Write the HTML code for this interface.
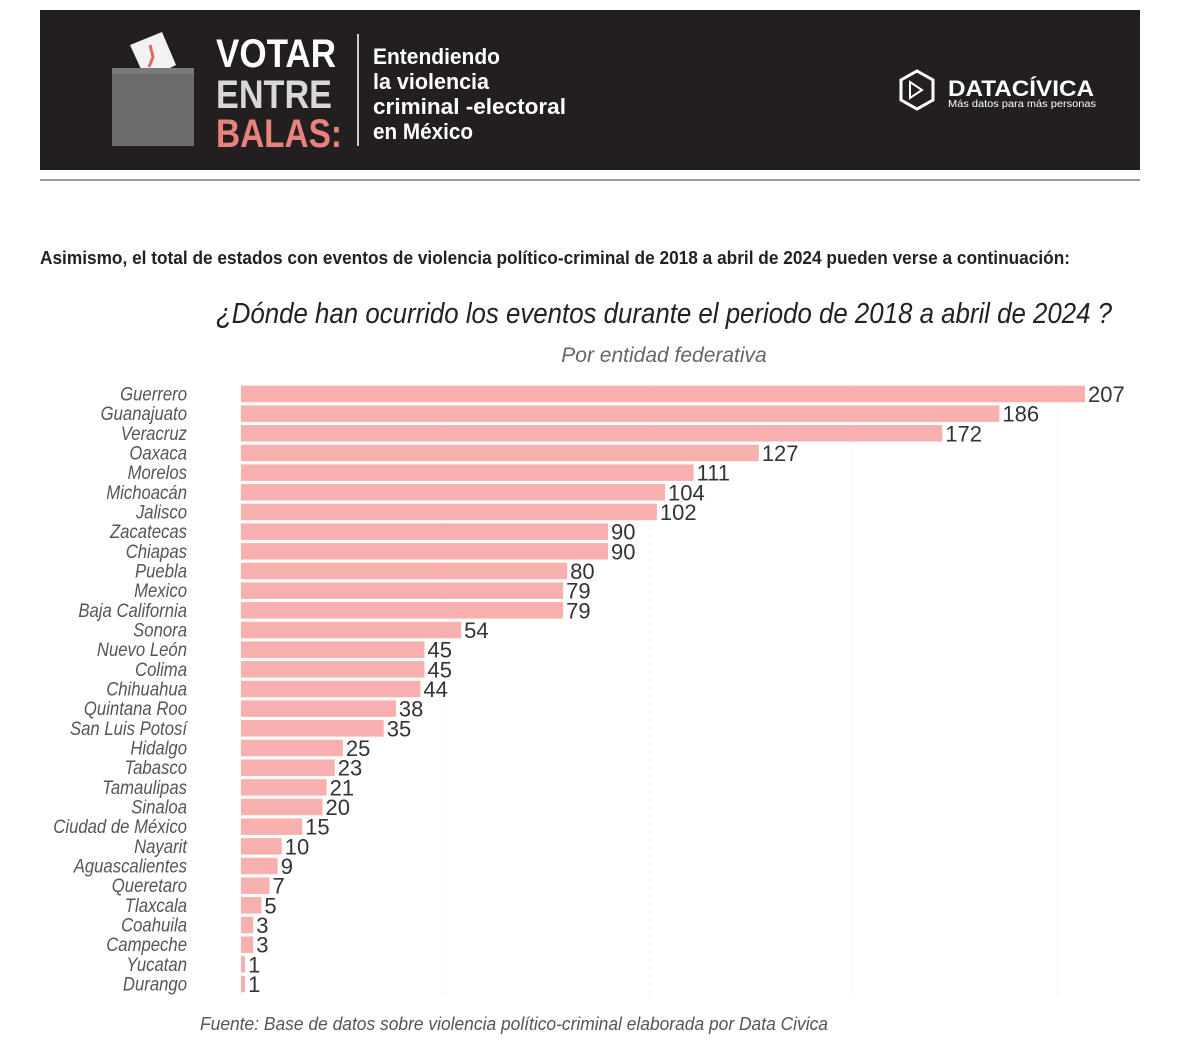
<!DOCTYPE html>
<html><head><meta charset="utf-8">
<style>
html,body{margin:0;padding:0;background:#fff;width:1181px;height:1042px;overflow:hidden;font-family:"Liberation Sans",sans-serif;}
svg{display:block}
</style></head>
<body>
<svg width="1181" height="1042" viewBox="0 0 1181 1042" xmlns="http://www.w3.org/2000/svg">
  <g>
    <rect x="40" y="10" width="1100" height="160" fill="#231f20"/>
    <g>
      <polygon points="130,45 162,32 176,65 146,80" fill="#f2f2f2"/>
      <path d="M150,45 l3,12 l-4,10" stroke="#e06a66" stroke-width="3" fill="none"/>
      <rect x="112" y="68" width="82" height="78" fill="#6b6b6b"/>
      <rect x="112" y="68" width="82" height="6" fill="#7a7a7a"/>
    </g>
    <g font-family="Liberation Sans Narrow, Liberation Sans, sans-serif" font-weight="bold" font-size="40">
      <text x="216" y="67" fill="#ffffff" textLength="120" lengthAdjust="spacingAndGlyphs">VOTAR</text>
      <text x="216" y="108" fill="#d8d8d8" textLength="116" lengthAdjust="spacingAndGlyphs">ENTRE</text>
      <text x="216" y="147" fill="#e8827d" textLength="126" lengthAdjust="spacingAndGlyphs">BALAS:</text>
    </g>
    <rect x="357" y="34" width="2" height="112" fill="#cccccc"/>
    <g font-family="Liberation Sans Narrow, Liberation Sans, sans-serif" font-weight="bold" font-size="22" fill="#ffffff">
      <text x="373" y="64" textLength="127" lengthAdjust="spacingAndGlyphs">Entendiendo</text>
      <text x="373" y="89" textLength="116" lengthAdjust="spacingAndGlyphs">la violencia</text>
      <text x="373" y="114" textLength="193" lengthAdjust="spacingAndGlyphs">criminal -electoral</text>
      <text x="373" y="139" textLength="100" lengthAdjust="spacingAndGlyphs">en México</text>
    </g>
    <g>
      <polygon points="917,71 933,80 933,100 917,109 901,100 901,80" fill="none" stroke="#fff" stroke-width="3"/>
      <path d="M910,82 l12,8 l-12,8 z" fill="none" stroke="#fff" stroke-width="2"/>
      <text x="948" y="96" font-weight="bold" font-size="22" fill="#ffffff" textLength="146" lengthAdjust="spacingAndGlyphs">DATACÍVICA</text>
      <text x="948" y="107" font-size="10.5" fill="#ffffff" textLength="148" lengthAdjust="spacingAndGlyphs">Más datos para más personas</text>
    </g>
  </g>
  <rect x="40" y="179" width="1100" height="2" fill="#9a9a9a"/>
  <text x="40" y="264" font-family="Liberation Sans Narrow, Liberation Sans, sans-serif" font-weight="bold" font-size="18" fill="#222" textLength="1030" lengthAdjust="spacingAndGlyphs">Asimismo, el total de estados con eventos de violencia político-criminal de 2018 a abril de 2024 pueden verse a continuación:</text>
  <text x="216" y="323" font-family="Liberation Sans Narrow, Liberation Sans, sans-serif" font-style="italic" font-size="29" fill="#222" textLength="896" lengthAdjust="spacingAndGlyphs">¿Dónde han ocurrido los eventos durante el periodo de 2018 a abril de 2024 ?</text>
  <text x="664" y="362" text-anchor="middle" font-family="Liberation Sans Narrow, Liberation Sans, sans-serif" font-style="italic" font-size="21" fill="#666">Por entidad federativa</text>
  <g id="grid"></g>
  <g id="bars"></g>
  <text x="200" y="1030" font-family="Liberation Sans Narrow, Liberation Sans, sans-serif" font-style="italic" font-size="18" fill="#555" textLength="628" lengthAdjust="spacingAndGlyphs">Fuente: Base de datos sobre violencia político-criminal elaborada por Data Civica</text>
</svg>
<script>
const categories = ["Guerrero","Guanajuato","Veracruz","Oaxaca","Morelos","Michoacán","Jalisco","Zacatecas","Chiapas","Puebla","Mexico","Baja California","Sonora","Nuevo León","Colima","Chihuahua","Quintana Roo","San Luis Potosí","Hidalgo","Tabasco","Tamaulipas","Sinaloa","Ciudad de México","Nayarit","Aguascalientes","Queretaro","Tlaxcala","Coahuila","Campeche","Yucatan","Durango"];
const values = [207,186,172,127,111,104,102,90,90,80,79,79,54,45,45,44,38,35,25,23,21,20,15,10,9,7,5,3,3,1,1];
const gridTicks = [0,50,100,150,200];

const NS = "http://www.w3.org/2000/svg";
const x0 = 241, pxPerUnit = (1085 - 241) / 207;
const y0 = 385.7, pitch = 19.67, barH = 16.5;
function xScale(v){ return x0 + v * pxPerUnit; }
function yScale(i){ return y0 + i * pitch; }

const grid = document.getElementById('grid');
gridTicks.forEach(t => {
  const l = document.createElementNS(NS,'line');
  
  
  l.setAttribute('x1', xScale(t)); l.setAttribute('x2', xScale(t));
  l.setAttribute('y1', 383); l.setAttribute('y2', 995);
  l.setAttribute('stroke', '#f3f3f3'); l.setAttribute('stroke-dasharray', '4 4');
  grid.appendChild(l);
});

const g = document.getElementById('bars');
categories.forEach((c, i) => {
  const y = yScale(i);
  const r = document.createElementNS(NS,'rect');
  
  
  r.setAttribute('x', x0); r.setAttribute('y', y);
  r.setAttribute('width', Math.max(xScale(values[i]) - x0, 2)); r.setAttribute('height', barH);
  r.setAttribute('fill', '#f7b0ae');
  g.appendChild(r);
  const lab = document.createElementNS(NS,'text');
  
  
  lab.setAttribute('x', 187); lab.setAttribute('y', y + barH/2 + 6.5);
  lab.setAttribute('text-anchor', 'end');
  lab.setAttribute('transform', 'translate(187,0) scale(0.88,1) translate(-187,0)');
  lab.setAttribute('font-family', 'Liberation Sans Narrow, Liberation Sans, sans-serif');
  lab.setAttribute('font-style', 'italic'); lab.setAttribute('font-size', '19');
  lab.setAttribute('fill', '#555');
  lab.textContent = c;
  g.appendChild(lab);
  const val = document.createElementNS(NS,'text');
  
  
  val.setAttribute('x', xScale(values[i]) + 3); val.setAttribute('y', y + barH/2 + 8);
  val.setAttribute('font-size', '22'); val.setAttribute('fill', '#333');
  val.textContent = values[i];
  g.appendChild(val);
});
</script>
</body></html>
